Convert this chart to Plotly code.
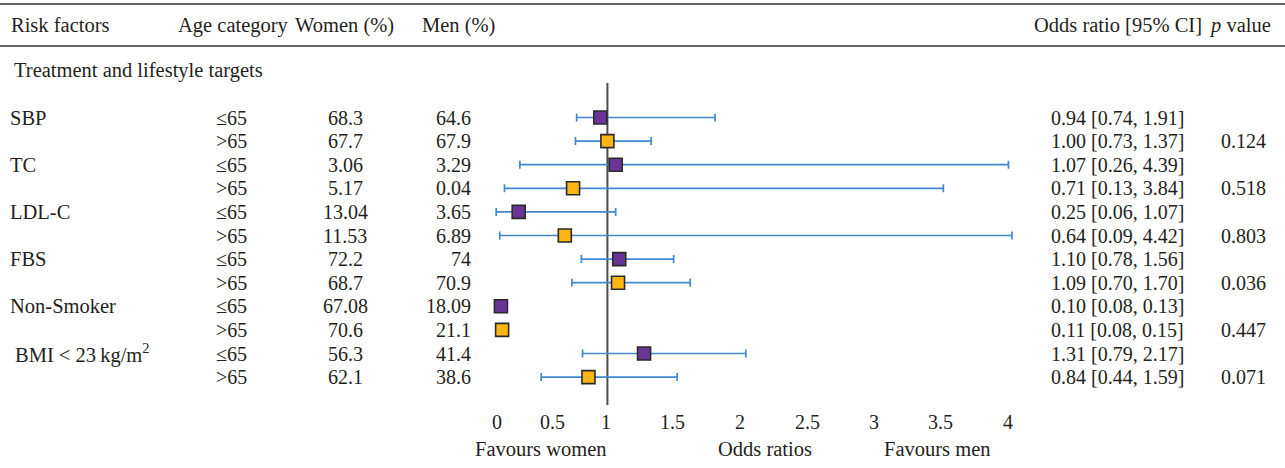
import plotly.graph_objects as go

# ---------------- data ----------------
risk_factors = ["SBP", "TC", "LDL-C", "FBS", "Non-Smoker", "BMI < 23\u2009kg/m<sup>2</sup>"]
age_categories = ["≤65", ">65"]
women_pct = ["68.3", "67.7", "3.06", "5.17", "13.04", "11.53", "72.2", "68.7", "67.08", "70.6", "56.3", "62.1"]
men_pct = ["64.6", "67.9", "3.29", "0.04", "3.65", "6.89", "74", "70.9", "18.09", "21.1", "41.4", "38.6"]
odds_ratio = [0.94, 1.00, 1.07, 0.71, 0.25, 0.64, 1.10, 1.09, 0.10, 0.11, 1.31, 0.84]
ci_low = [0.74, 0.73, 0.26, 0.13, 0.06, 0.09, 0.78, 0.70, 0.08, 0.08, 0.79, 0.44]
ci_high = [1.91, 1.37, 4.39, 3.84, 1.07, 4.42, 1.56, 1.70, 0.13, 0.15, 2.17, 1.59]
p_values = ["0.124", "0.518", "0.803", "0.036", "0.447", "0.071"]
tick_labels = ["0", "0.5", "1", "1.5", "2", "2.5", "3", "3.5", "4"]
headers = ["Risk factors", "Age category", "Women (%)", "Men (%)", "Odds ratio [95% CI]", "<i>p</i> value"]
section_title = "Treatment and lifestyle targets"
axis_captions = ["Favours women", "Odds ratios", "Favours men"]

# ---------------- layout constants ----------------
W, H = 1285, 468
FONT = "Liberation Serif, DejaVu Serif, serif"
TXT = "#231f20"
FS = 20        # table values
FS_H = 20.5    # headers / captions
FS_RF = 20.5   # risk factor labels
PURPLE = "#6a3597"
ORANGE = "#fdb515"
BLUE = "#4288d0"

# x axis: data 0 at px 489.1, 118.3 px per unit
X0, XS = 489.1, 118.3
# y axis: row 0 at px 117.5, 23.6 px per row
Y0, YS = 117.5, 23.6

n = len(odds_ratio)
rows = list(range(n))

def px(xp):
    return xp / W

def py(yp):
    return 1 - yp / H

fig = go.Figure()

colors = [PURPLE if i % 2 == 0 else ORANGE for i in rows]
fig.add_trace(go.Scatter(
    x=odds_ratio, y=rows, mode="markers",
    marker=dict(symbol="square", size=13, color=colors,
                line=dict(color="#2a2a2a", width=1.6)),
    error_x=dict(type="data", symmetric=False,
                 array=[h - o for h, o in zip(ci_high, odds_ratio)],
                 arrayminus=[o - l for o, l in zip(odds_ratio, ci_low)],
                 color=BLUE, thickness=1.7, width=4),
    showlegend=False, hoverinfo="skip",
))

ann = []
def text(x, y, s, xanchor="left", xref="paper", yref="paper", size=FS):
    ann.append(dict(x=x, y=y, xref=xref, yref=yref, text=s, showarrow=False,
                    xanchor=xanchor, yanchor="middle",
                    font=dict(family=FONT, size=size, color=TXT)))

# header
hdr_y = py(25)
text(px(9), hdr_y, headers[0], size=FS_H)
text(px(176), hdr_y, headers[1], size=FS_H)
text(px(293), hdr_y, headers[2], size=FS_H)
text(px(420), hdr_y, headers[3], size=FS_H)
text(px(1032), hdr_y, headers[4], size=FS_H)
text(px(1273), hdr_y, headers[5], xanchor="right", size=FS_H)

text(px(12), py(70), section_title, size=FS_H)

for k, rf in enumerate(risk_factors):
    xl = 13 if k == len(risk_factors) - 1 else 8
    text(px(xl), 2 * k, rf, yref="y", size=FS_RF)

for i in rows:
    text(px(214), i, age_categories[i % 2], yref="y")
    text(px(345), i, women_pct[i], xanchor="center", yref="y")
    text(px(473), i, men_pct[i], xanchor="right", yref="y")
    text(px(1049), i, f"{odds_ratio[i]:.2f} [{ci_low[i]:.2f}, {ci_high[i]:.2f}]", yref="y")
for k, pv in enumerate(p_values):
    text(px(1268), 2 * k + 1, pv, xanchor="right", yref="y")

# tick labels row
tick_px = [497, 552, 606, 672, 740, 807, 874, 941, 1008]
for t, xp in zip(tick_labels, tick_px):
    ann.append(dict(x=px(xp), y=py(422), xref="paper", yref="paper", text=t,
                    showarrow=False, xanchor="center", yanchor="middle",
                    font=dict(family=FONT, size=FS, color=TXT)))
for c, xp in zip(axis_captions, [541, 765, 937]):
    ann.append(dict(x=px(xp), y=py(449), xref="paper", yref="paper", text=c,
                    showarrow=False, xanchor="center", yanchor="middle",
                    font=dict(family=FONT, size=FS_H, color=TXT)))

shapes = [
    dict(type="line", xref="paper", yref="paper", x0=0, x1=1, y0=py(4), y1=py(4),
         line=dict(color="#333333", width=1.5)),
    dict(type="line", xref="paper", yref="paper", x0=0, x1=1, y0=py(46), y1=py(46),
         line=dict(color="#333333", width=1.5)),
    dict(type="line", xref="x", yref="y", x0=1, x1=1,
         y0=(83 - Y0) / YS, y1=(405 - Y0) / YS,
         line=dict(color="#4d4d4d", width=2), layer="below"),
]

fig.update_layout(
    width=W, height=H,
    margin=dict(l=0, r=0, t=0, b=0),
    paper_bgcolor="white", plot_bgcolor="white",
    xaxis=dict(range=[-X0 / XS, (W - X0) / XS], visible=False, domain=[0, 1], fixedrange=True),
    yaxis=dict(range=[(H - Y0) / YS, -Y0 / YS], visible=False, domain=[0, 1], fixedrange=True),
    annotations=ann, shapes=shapes,
    font=dict(family=FONT, color=TXT),
)

fig.write_html(
    "out.html",
    config={"displayModeBar": False, "staticPlot": True},
    post_script="document.body.style.margin='0';document.body.style.overflow='hidden';",
)
